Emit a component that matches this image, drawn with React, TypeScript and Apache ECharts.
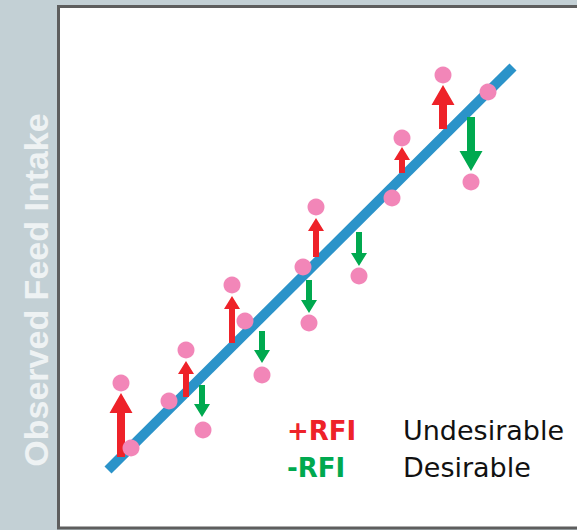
import React, { useEffect, useRef } from "react";
import * as echarts from "echarts";

// Regression line (expected vs observed feed intake), endpoints
const lineX = [10.0, 91.0];
const lineY = [11.6, 92.2];

// Observed animals
const dotX = [12.6, 14.6, 22.2, 25.6, 29.0, 34.8, 37.4, 40.8, 49.0, 51.6, 50.2, 60.2, 66.8, 68.8, 77.0, 86.0, 82.6];
const dotY = [29.0, 16.0, 25.4, 35.6, 19.6, 48.6, 41.4, 30.6, 52.2, 64.2, 41.0, 50.4, 66.0, 78.0, 90.6, 87.2, 69.2];

// Residual arrows: from near the line toward the observed point
const arrowX = [12.6, 25.6, 34.8, 51.6, 68.8, 77.0, 28.8, 40.8, 50.2, 60.2, 82.6];
const arrowFrom = [14.2, 26.2, 37.0, 54.2, 71.0, 79.8, 28.6, 39.4, 49.6, 59.2, 82.2];
const arrowTo = [27.0, 33.4, 46.4, 62.0, 76.2, 88.6, 22.2, 33.0, 43.0, 52.4, 71.4];
const arrowMajor = [1, 0, 0, 0, 0, 1, 0, 0, 0, 0, 1];

const axisTitle = "Observed Feed Intake";
const legendItems = [
  { key: "+RFI", label: "Undesirable" },
  { key: "-RFI", label: "Desirable" },
];

const RED = "#ee2229";
const GREEN = "#00a94f";
const PINK = "#f286b8";
const BLUE = "#2b93c9";

export default function App() {
  const ref = useRef<HTMLDivElement>(null);
  useEffect(() => {
    if (!ref.current) return;
    const chart = echarts.init(ref.current, null, { renderer: "svg" });
    const arrowData = arrowX.map((x, i) => [x, arrowFrom[i], arrowTo[i], arrowMajor[i]]);
    const option: any = {
      animation: false,
      backgroundColor: "#c3d0d5",
      grid: {
        left: 58,
        top: 6,
        right: 0,
        bottom: 2,
        show: false,
      },
      xAxis: { type: "value", min: 0, max: 103.8, show: false },
      yAxis: { type: "value", min: 0, max: 104.4, show: false },
      series: [
        {
          type: "line",
          data: lineX.map((x, i) => [x, lineY[i]]),
          symbol: "none",
          lineStyle: { color: BLUE, width: 10, cap: "butt" },
          z: 1,
        },
        {
          type: "custom",
          data: arrowData,
          z: 2,
          renderItem: (params: any, api: any) => {
            const x = api.value(0);
            const y0 = api.value(1);
            const y1 = api.value(2);
            const major = api.value(3);
            const p0 = api.coord([x, y0]);
            const p1 = api.coord([x, y1]);
            const dir = p1[1] < p0[1] ? -1 : 1;
            const headW = major ? 23 : 16;
            const headL = major ? 20 : 13;
            const shaftW = major ? 8 : 6;
            const cx = p0[0];
            const neck = p1[1] - dir * headL;
            const pts = [
              [cx - shaftW / 2, p0[1]],
              [cx - shaftW / 2, neck],
              [cx - headW / 2, neck],
              [cx, p1[1]],
              [cx + headW / 2, neck],
              [cx + shaftW / 2, neck],
              [cx + shaftW / 2, p0[1]],
            ];
            return {
              type: "polygon",
              shape: { points: pts },
              style: { fill: dir < 0 ? RED : GREEN },
            };
          },
        },
        {
          type: "scatter",
          data: dotX.map((x, i) => [x, dotY[i]]),
          symbol: "circle",
          symbolSize: 17,
          itemStyle: { color: PINK, opacity: 1 },
          z: 3,
        },
      ],
      graphic: [
        {
          type: "rect",
          z: -10,
          silent: true,
          shape: { x: 58.5, y: 6.5, width: 530, height: 521.5 },
          style: { fill: "#ffffff", stroke: "#5e5e5e", lineWidth: 3 },
        },
        {
          type: "text",
          x: 36,
          y: 290,
          rotation: Math.PI / 2,
          style: {
            text: axisTitle,
            fill: "#eef2f3",
            fontFamily: "Liberation Sans, Arial, sans-serif",
            fontSize: 34,
            fontWeight: "bold",
            align: "center",
            textAlign: "center",
            verticalAlign: "middle",
            textVerticalAlign: "middle",
          },
        },
        ...legendItems.flatMap((it, i) => [
          {
            type: "text",
            x: 287,
            y: 430.5 + i * 37,
            style: {
              text: it.key,
              fill: i === 0 ? RED : GREEN,
              fontFamily: "DejaVu Sans, sans-serif",
              fontSize: 26,
              fontWeight: "bold",
              align: "left",
              textAlign: "left",
              verticalAlign: "middle",
              textVerticalAlign: "middle",
            },
          },
          {
            type: "text",
            x: 403,
            y: 430.5 + i * 37,
            style: {
              text: it.label,
              fill: "#111111",
              fontFamily: "DejaVu Sans, sans-serif",
              fontSize: 27,
              fontWeight: "normal",
              align: "left",
              textAlign: "left",
              verticalAlign: "middle",
              textVerticalAlign: "middle",
            },
          },
        ]),
      ],
    };
    chart.setOption(option);
    return () => chart.dispose();
  }, []);
  return (
    <div
      ref={ref}
      style={{ position: "fixed", left: 0, top: 0, width: 577, height: 530 }}
    />
  );
}
